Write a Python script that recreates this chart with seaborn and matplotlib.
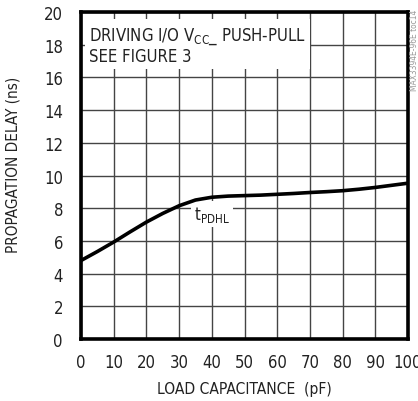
"""
propagation delay vs load capacitance, redrawn with seaborn
"""
import numpy as np
import pandas as pd
import matplotlib.pyplot as plt
import seaborn as sns

# values
load_pf = [0, 5, 10, 15, 20, 25, 30, 35, 40, 45, 50,
           55, 60, 65, 70, 75, 80, 85, 90, 95, 100]
delay_ns = [4.8, 5.35, 5.93, 6.55, 7.15, 7.68, 8.15, 8.5, 8.67, 8.74, 8.77,
            8.8, 8.85, 8.9, 8.96, 9.01, 9.07, 9.16, 9.27, 9.4, 9.53]
x_ticks = list(range(0, 101, 10))
y_ticks = list(range(0, 21, 2))

sns.set_style('white')
plt.rcParams['font.family'] = ['DejaVu Sans']
plt.rcParams['font.stretch'] = 'condensed'

df = pd.DataFrame({'load': load_pf, 'delay': delay_ns})

fig = plt.figure(figsize=(4.18, 4.02), dpi=100)
ax = fig.add_axes([81 / 418, 1 - 340 / 402, 327 / 418, 327 / 402])

sns.lineplot(data=df, x='load', y='delay', color='black', linewidth=2.6, ax=ax, zorder=5)

ax.set_xlim(0, 100)
ax.set_ylim(0, 20)
ax.set_xticks(x_ticks)
ax.set_yticks(y_ticks)
ax.tick_params(length=0, labelsize=12, colors='#222222')
ax.tick_params(axis='y', pad=13)
ax.tick_params(axis='x', pad=10)
ax.grid(True, color='#444444', linewidth=1.0)
for sp in ax.spines.values():
    sp.set_linewidth(2.6)
    sp.set_color('black')
ax.set_xlabel('LOAD CAPACITANCE  (pF)', fontsize=11.2, color='#222222', labelpad=7)
ax.set_ylabel('PROPAGATION DELAY (ns)', fontsize=11, color='#222222', labelpad=17)
ax.yaxis.label.set_y(0.537)

ax.text(2.5, 19.2, 'DRIVING I/O V$_{\\mathregular{CC}}$_ PUSH-PULL\nSEE FIGURE 3',
        fontsize=12, va='top', ha='left', color='#222222', linespacing=1.1,
        bbox=dict(facecolor='white', edgecolor='none', pad=3), zorder=4)
ax.text(40, 7.65, 't$_{\\mathregular{PDHL}}$', fontsize=12, ha='center', va='center',
        color='#222222', bbox=dict(facecolor='white', edgecolor='none', pad=2), zorder=4)

fig.text(0.992, 0.975, 'MAX3394E-96E toc14', rotation=90, fontsize=6,
         color='#999999', ha='center', va='top')

fig.savefig('out.png', dpi=100)
